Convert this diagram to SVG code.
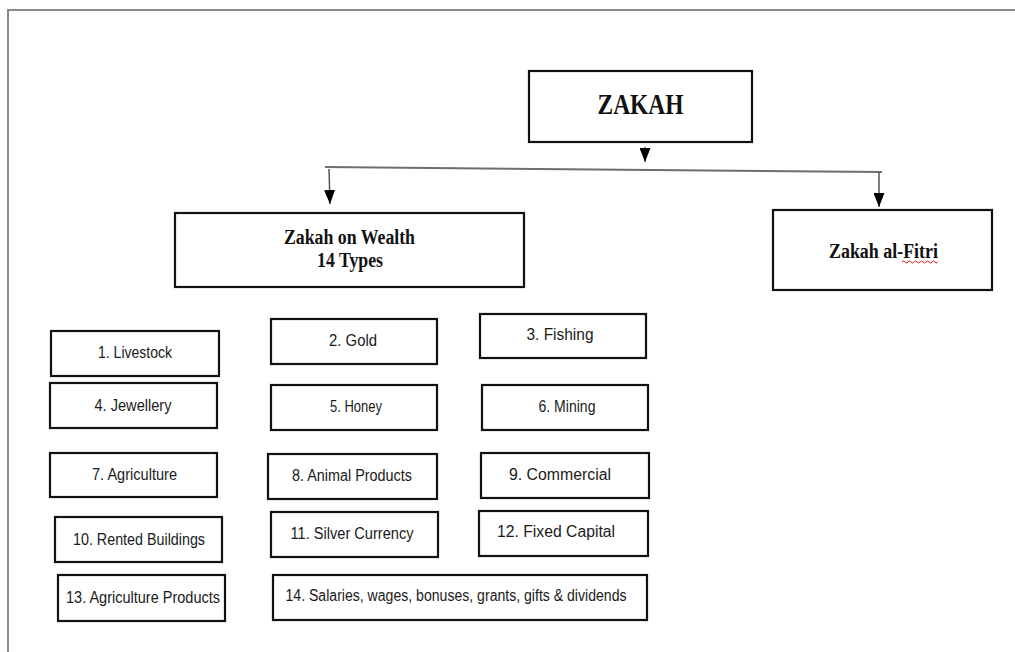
<svg xmlns="http://www.w3.org/2000/svg" width="1015" height="652" viewBox="0 0 1015 652">
<style>
.box{fill:#fff;stroke:#111;stroke-width:2.2}
.hd{font-family:"Liberation Serif","Times New Roman",serif;font-weight:bold;fill:#111;text-anchor:middle}
.lb{font-family:"Liberation Sans",Arial,sans-serif;font-size:16px;fill:#1a1a1a;text-anchor:middle}
.conn{stroke:#6e6e6e;stroke-width:2;fill:none}
.stem{stroke:#555;stroke-width:1.5;fill:none}
.frame{stroke:#8a8a8a;stroke-width:2;fill:none}
</style>
<defs>
<marker id="ah" viewBox="0 0 14 11" refX="14" refY="5.5" markerWidth="14" markerHeight="11" markerUnits="userSpaceOnUse" orient="auto">
<path d="M0,0 L14,5.5 L0,11 z" fill="#000"/>
</marker>
</defs>
<rect width="1015" height="652" fill="#fff"/>
<path class="frame" d="M8,652 L8,10 L1015,10"/>

<g id="connectors">
<path class="stem" d="M645,147 L645,162" marker-end="url(#ah)"/>
<path class="conn" d="M325,167 L882,172"/>
<path class="stem" d="M329,169 L330,204" marker-end="url(#ah)"/>
<path class="stem" d="M879,172 L879,207" marker-end="url(#ah)"/>
</g>

<g id="zakah">
<rect class="box" x="529" y="71" width="223" height="71"/>
<text class="hd" x="640.5" y="114" font-size="29" textLength="86" lengthAdjust="spacingAndGlyphs">ZAKAH</text>
</g>
<g id="wealth">
<rect class="box" x="175" y="213" width="349" height="74"/>
<text class="hd" x="349.5" y="244" font-size="20" textLength="131" lengthAdjust="spacingAndGlyphs">Zakah on Wealth</text>
<text class="hd" x="350" y="267" font-size="20" textLength="66" lengthAdjust="spacingAndGlyphs">14 Types</text>
</g>
<g id="fitri">
<rect class="box" x="773" y="210" width="219" height="80"/>
<text class="hd" x="883.5" y="258" font-size="20" textLength="109" lengthAdjust="spacingAndGlyphs">Zakah al-Fitri</text>
<path d="M902,262 q1.5,-2 3,0 t3,0 t3,0 t3,0 t3,0 t3,0 t3,0 t3,0 t3,0 t3,0 t3,0 t3,0" stroke="#d22" stroke-width="1" fill="none"/>
</g>

<g id="t1"><rect class="box" x="51" y="331" width="168" height="45"/><text class="lb" x="135" y="358" textLength="74" lengthAdjust="spacingAndGlyphs">1. Livestock</text></g>
<g id="t2"><rect class="box" x="271" y="319" width="166" height="45"/><text class="lb" x="353" y="346" textLength="48" lengthAdjust="spacingAndGlyphs">2. Gold</text></g>
<g id="t3"><rect class="box" x="480" y="314" width="166" height="44"/><text class="lb" x="560" y="340" textLength="67" lengthAdjust="spacingAndGlyphs">3. Fishing</text></g>
<g id="t4"><rect class="box" x="50" y="383" width="167" height="45"/><text class="lb" x="133" y="411" textLength="77" lengthAdjust="spacingAndGlyphs">4. Jewellery</text></g>
<g id="t5"><rect class="box" x="271" y="385" width="166" height="45"/><text class="lb" x="356" y="412" textLength="52" lengthAdjust="spacingAndGlyphs">5. Honey</text></g>
<g id="t6"><rect class="box" x="482" y="385" width="166" height="45"/><text class="lb" x="567" y="412" textLength="57" lengthAdjust="spacingAndGlyphs">6. Mining</text></g>
<g id="t7"><rect class="box" x="50" y="453" width="167" height="44"/><text class="lb" x="134.5" y="480" textLength="85" lengthAdjust="spacingAndGlyphs">7. Agriculture</text></g>
<g id="t8"><rect class="box" x="268" y="454" width="169" height="45"/><text class="lb" x="352" y="481" textLength="120" lengthAdjust="spacingAndGlyphs">8. Animal Products</text></g>
<g id="t9"><rect class="box" x="481" y="453" width="168" height="45"/><text class="lb" x="560" y="480" textLength="102" lengthAdjust="spacingAndGlyphs">9. Commercial</text></g>
<g id="t10"><rect class="box" x="55" y="517" width="167" height="45"/><text class="lb" x="139" y="545" textLength="132" lengthAdjust="spacingAndGlyphs">10. Rented Buildings</text></g>
<g id="t11"><rect class="box" x="271" y="512" width="167" height="45"/><text class="lb" x="352" y="539" textLength="123" lengthAdjust="spacingAndGlyphs">11. Silver Currency</text></g>
<g id="t12"><rect class="box" x="479" y="511" width="169" height="45"/><text class="lb" x="556" y="537" textLength="118" lengthAdjust="spacingAndGlyphs">12. Fixed Capital</text></g>
<g id="t13"><rect class="box" x="58" y="575" width="167" height="46"/><text class="lb" x="143" y="603" textLength="154" lengthAdjust="spacingAndGlyphs">13. Agriculture Products</text></g>
<g id="t14"><rect class="box" x="273" y="575" width="374" height="45"/><text class="lb" x="456" y="601" textLength="341" lengthAdjust="spacingAndGlyphs">14. Salaries, wages, bonuses, grants, gifts &amp; dividends</text></g>
</svg>
